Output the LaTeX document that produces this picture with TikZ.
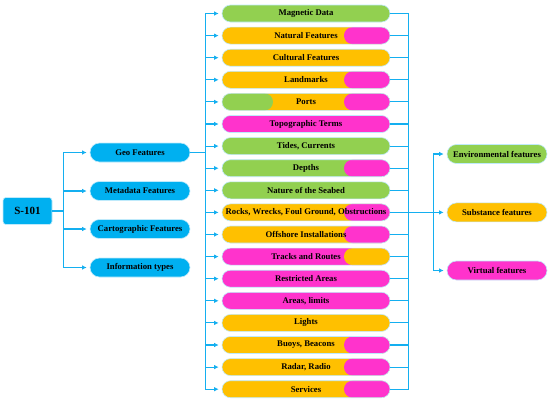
\documentclass[tikz,border=0pt]{standalone}
\usepackage{fontspec}
\setmainfont{Liberation Serif}
\usepackage{tikz}
\usetikzlibrary{arrows.meta, calc}

\definecolor{skyc}{RGB}{0,176,240}
\definecolor{linec}{RGB}{20,175,240}
\definecolor{greenc}{RGB}{146,208,80}
\definecolor{yellowc}{RGB}{255,192,0}
\definecolor{pinkc}{RGB}{255,51,204}

\tikzset{
  base/.style={draw=cyan!25, line width=0.6pt, inner sep=0pt, font=\bfseries\fontsize{8.7}{10}\selectfont},
  root/.style={base, fill=skyc, rounded corners=3pt, minimum width=49pt, minimum height=27pt, font=\bfseries\fontsize{11}{12}\selectfont},
  group/.style={base, fill=skyc, rounded corners=9.5pt, minimum width=100pt, minimum height=19pt},
  pill/.style={base, rounded corners=8.5pt, minimum width=168pt, minimum height=17pt},
  kind/.style={base, rounded corners=9.5pt, minimum width=100pt, minimum height=19pt},
  pinktail/.style={path picture={\fill[pinkc] ([xshift=-46pt]path picture bounding box.north east) rectangle (path picture bounding box.south east);}},
  yellowtail/.style={path picture={\fill[yellowc] ([xshift=-46pt]path picture bounding box.north east) rectangle (path picture bounding box.south east);}},
  greenhead/.style={path picture={\fill[greenc] (path picture bounding box.north west) rectangle ([xshift=51pt]path picture bounding box.south west);
    \fill[pinkc] ([xshift=-46pt]path picture bounding box.north east) rectangle (path picture bounding box.south east);}},
  link/.style={draw=linec, line width=1.1pt},
  arr/.style={link, shorten >=3pt, -{Latex[length=4.5pt, width=4.5pt]}}
}

\begin{document}
\begin{tikzpicture}[x=1pt, y=-1pt]
  \useasboundingbox (0,0) rectangle (550,400);
  % Root and first level
  \node[root] (s101) at (27.5,211) {S-101};
  \node[group] (geo)  at (140,152.5) {Geo Features};
  \node[group] (meta) at (140,191) {Metadata Features};
  \node[group] (carto) at (140,229) {Cartographic Features};
  \node[group] (info) at (140,267.5) {Information types};
  % Geo feature classes
  \node[pill, fill=greenc] (mag) at (306,13.5) {Magnetic Data};
  \node[pill, fill=yellowc, pinktail] (nat) at (306,35.6) {Natural Features};
  \node[pill, fill=yellowc] (cult) at (306,57.7) {Cultural Features};
  \node[pill, fill=yellowc, pinktail] (land) at (306,79.8) {Landmarks};
  \node[pill, fill=yellowc, greenhead] (ports) at (306,101.9) {Ports};
  \node[pill, fill=pinkc] (topo) at (306,124) {Topographic Terms};
  \node[pill, fill=greenc] (tides) at (306,146.1) {Tides, Currents};
  \node[pill, fill=greenc, pinktail] (depth) at (306,168.2) {Depths};
  \node[pill, fill=greenc] (seabed) at (306,190.3) {Nature of the Seabed};
  \node[pill, fill=yellowc, pinktail] (rocks) at (306,212.4) {Rocks, Wrecks, Foul Ground, Obstructions};
  \node[pill, fill=yellowc, pinktail] (off) at (306,234.5) {Offshore Installations};
  \node[pill, fill=pinkc, yellowtail] (tracks) at (306,256.6) {Tracks and Routes};
  \node[pill, fill=pinkc] (restr) at (306,278.7) {Restricted Areas};
  \node[pill, fill=pinkc] (areas) at (306,300.8) {Areas, limits};
  \node[pill, fill=yellowc] (lights) at (306,322.9) {Lights};
  \node[pill, fill=yellowc, pinktail] (buoys) at (306,345) {Buoys, Beacons};
  \node[pill, fill=yellowc, pinktail] (radar) at (306,367.1) {Radar, Radio};
  \node[pill, fill=yellowc, pinktail] (serv) at (306,389.2) {Services};
  % Feature kinds
  \node[kind, fill=greenc] (env) at (497,154) {Environmental features};
  \node[kind, fill=yellowc] (subst) at (497,212.4) {Substance features};
  \node[kind, fill=pinkc] (virt) at (497,270.5) {Virtual features};
  % Connectors
  \coordinate (busA) at ($(s101.east)+(11,0)$);
  \coordinate (busB) at ($(geo.east)+(15,0)$);
  \coordinate (busC) at ($(rocks.east)+(18,0)$);
  \coordinate (busD) at ($(rocks.east)+(43,0)$);
  \foreach \n in {geo, meta, carto, info}
    \draw[arr] (s101.east) -- (busA) |- (\n.west);
  \foreach \n in {mag, nat, cult, land, ports, topo, tides, depth, seabed,
                  rocks, off, tracks, restr, areas, lights, buoys, radar, serv} {
    \draw[arr] (geo.east) -- (busB) |- (\n.west);
    \draw[link] (\n.east) -| (busC);
  }
  \foreach \n in {env, subst, virt}
    \draw[arr] (rocks.east) -- (busD) |- (\n.west);
\end{tikzpicture}
\end{document}
